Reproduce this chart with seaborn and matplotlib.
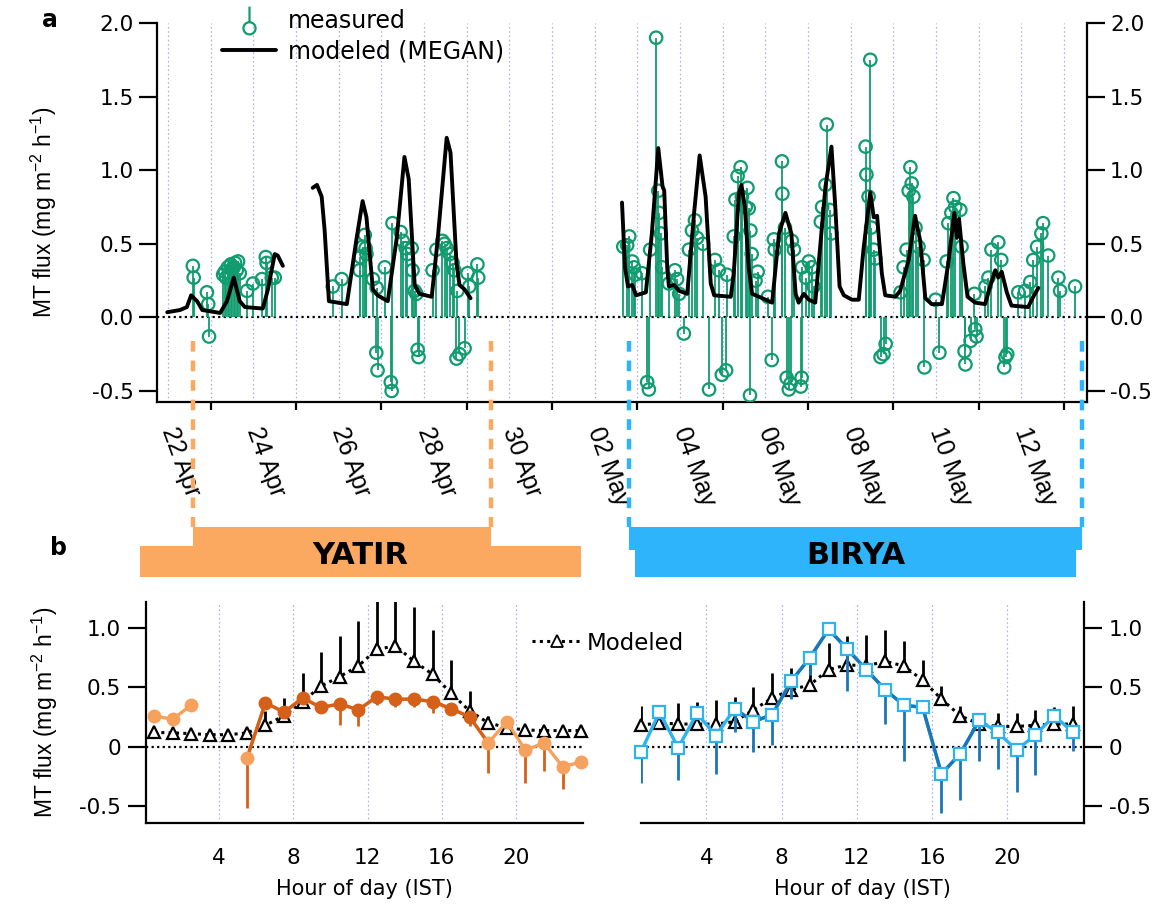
import numpy as np
import pandas as pd
import matplotlib
matplotlib.use("Agg")
import matplotlib.pyplot as plt
import matplotlib.dates as mdates
from matplotlib.lines import Line2D
from matplotlib.patches import Rectangle
from matplotlib.path import Path
from matplotlib.ticker import FixedLocator, FuncFormatter
import seaborn as sns

sns.set_theme(style="white")
plt.rcParams["font.family"] = ["DejaVu Sans"]
plt.rcParams["mathtext.fontset"] = "custom"
plt.rcParams["mathtext.rm"] = "Liberation Sans"
plt.rcParams["mathtext.it"] = "Liberation Sans:italic"
plt.rcParams["mathtext.bf"] = "Liberation Sans:bold"
plt.rcParams["text.color"] = "black"
plt.rcParams["axes.labelcolor"] = "black"
plt.rcParams["xtick.color"] = "black"
plt.rcParams["ytick.color"] = "black"
NARROW = ["Liberation Sans", "DejaVu Sans"]

# ---------------------------------------------------------------- data
START = pd.Timestamp("2017-04-22")          # day offsets below are relative to 22 Apr 00:00

# modeled (MEGAN) flux, three continuous segments: day offset / value
MODEL_A_DAY = [-0.02, 0.28, 0.44, 0.54, 0.68, 0.80, 1.22, 1.38, 1.54, 1.68, 1.80, 2.22, 2.34, 2.50, 2.57, 2.69]
MODEL_A_VAL = [0.035, 0.05, 0.07, 0.15, 0.11, 0.05, 0.03, 0.11, 0.27, 0.11, 0.07, 0.06, 0.19, 0.43, 0.42, 0.35]
MODEL_B_DAY = [3.39, 3.49, 3.60, 3.67, 3.77, 3.98, 4.19, 4.42, 4.56, 4.65, 4.80, 4.91, 5.15, 5.36, 5.54, 5.64,
               5.78, 5.89, 6.18, 6.32, 6.53, 6.62, 6.76, 6.83, 6.95, 7.09]
MODEL_B_VAL = [0.88, 0.90, 0.82, 0.59, 0.11, 0.10, 0.09, 0.54, 0.79, 0.68, 0.19, 0.15, 0.11, 0.54, 1.09, 0.94,
               0.22, 0.16, 0.14, 0.53, 1.22, 1.12, 0.37, 0.22, 0.19, 0.13]
MODEL_C_DAY = [10.64, 10.71, 10.78, 10.88, 10.97, 11.20, 11.34, 11.49, 11.59, 11.63, 11.70, 11.74, 11.86, 11.98,
               12.17, 12.33, 12.46, 12.60, 12.72, 12.80, 13.19, 13.26, 13.38, 13.44, 13.52, 13.61, 13.69, 13.93,
               14.16, 14.32, 14.47, 14.61, 14.71, 14.78, 14.90, 15.02, 15.17, 15.41, 15.55, 15.64, 15.74, 15.84,
               16.03, 16.19, 16.30, 16.46, 16.54, 16.62, 16.73, 16.81, 17.05, 17.16, 17.36, 17.51, 17.63, 17.75,
               17.90, 18.14, 18.29, 18.43, 18.49, 18.54, 18.64, 18.74, 18.92, 19.15, 19.29, 19.39, 19.46, 19.54,
               19.66, 19.77, 20.16, 20.28, 20.40]
MODEL_C_VAL = [0.78, 0.34, 0.21, 0.22, 0.15, 0.17, 0.57, 1.15, 0.89, 0.86, 0.34, 0.21, 0.22, 0.18,
               0.16, 0.71, 1.10, 0.82, 0.23, 0.15, 0.14, 0.30, 0.84, 0.90, 0.75, 0.34, 0.16, 0.13,
               0.10, 0.57, 0.71, 0.57, 0.16, 0.10, 0.16, 0.12, 0.10, 0.89, 1.16, 0.75, 0.21, 0.15,
               0.12, 0.12, 0.46, 0.85, 0.68, 0.69, 0.30, 0.15, 0.14, 0.18, 0.39, 0.69, 0.52, 0.13,
               0.09, 0.09, 0.37, 0.71, 0.54, 0.67, 0.37, 0.14, 0.10, 0.09, 0.23, 0.32, 0.27, 0.31,
               0.17, 0.08, 0.07, 0.14, 0.20]

# measured flux (stems): day offset / value
MEAS_DAY = [0.58, 0.60, 0.91, 0.94, 0.96, 1.29, 1.33, 1.36, 1.40, 1.43, 1.47, 1.50, 1.54, 1.57, 1.61, 1.64, 1.68,
            1.85, 1.99, 2.20, 2.29, 2.31, 2.43, 2.50,
            3.86, 4.07, 4.49, 4.51, 4.56, 4.61, 4.63, 4.65, 4.80, 4.89, 4.88, 4.91, 5.08, 5.22, 5.24, 5.26,
            5.45, 5.50, 5.57, 5.61, 5.71, 5.73, 5.78, 5.82, 5.85, 5.87, 6.20, 6.29, 6.43, 6.48, 6.53, 6.60,
            6.67, 6.71, 6.78, 6.76, 6.83, 6.95, 7.02, 7.06, 7.25, 7.27,
            10.67, 10.76, 10.81, 10.88, 10.92, 10.95, 11.11, 11.23, 11.27, 11.30, 11.44, 11.49, 11.51, 11.55,
            11.58, 11.74, 11.88, 11.93, 11.98, 12.09, 12.21, 12.28, 12.35, 12.40, 12.54, 12.68, 12.82, 12.91,
            12.98, 13.08, 13.10, 13.26, 13.30, 13.35, 13.42, 13.45, 13.54, 13.58, 13.61, 13.65, 13.68, 13.77,
            13.82, 13.64, 14.06, 14.15, 14.20, 14.22, 14.39, 14.40, 14.46, 14.50, 14.55, 14.59, 14.62, 14.67,
            14.83, 14.85, 14.86, 14.95, 15.02, 15.09, 15.13, 15.30, 15.33, 15.41, 15.44, 15.51, 15.55,
            16.35, 16.37, 16.42, 16.46, 16.48, 16.54, 16.58, 16.70, 16.77, 16.82, 17.17, 17.24, 17.31, 17.36,
            17.40, 17.43, 17.47, 17.52, 17.59, 17.71, 17.73, 17.99, 18.08, 18.25, 18.29, 18.36, 18.41, 18.45,
            18.57, 18.60, 18.67, 18.69, 18.81, 18.90, 18.92, 18.95, 19.16, 19.23, 19.30, 19.46, 19.53, 19.60,
            19.63, 19.67, 19.93, 20.09, 20.21, 20.28, 20.37, 20.47, 20.51, 20.63, 20.87, 20.91, 21.26]
MEAS_VAL = [0.35, 0.27, 0.17, 0.09, -0.13, 0.29, 0.31, 0.27, 0.34, 0.30, 0.36, 0.33, 0.34, 0.37, 0.32, 0.38, 0.30,
            0.18, 0.23, 0.26, 0.41, 0.37, 0.27, 0.27,
            0.21, 0.26, 0.32, 0.41, 0.48, 0.56, 0.47, 0.43, 0.26, 0.20, -0.24, -0.36, 0.34, -0.44, -0.50, 0.64,
            0.58, 0.52, 0.47, 0.43, 0.47, 0.32, 0.18, 0.16, -0.22, -0.27, 0.32, 0.46, 0.52, 0.50, 0.47, 0.43,
            0.37, 0.32, 0.18, -0.28, -0.25, -0.21, 0.30, 0.21, 0.36, 0.27,
            0.48, 0.49, 0.55, 0.38, 0.34, 0.29, 0.30, -0.44, -0.49, 0.46, 1.90, 0.86, 0.71, 0.57,
            0.34, 0.23, 0.32, 0.26, 0.16, -0.11, 0.46, 0.59, 0.66, 0.54, 0.50, -0.49, 0.39, 0.32,
            -0.39, -0.36, 0.29, 0.55, 0.80, 0.96, 1.02, 0.82, 0.75, 0.88, 0.74, 0.59, 0.43, 0.25,
            0.31, -0.53, 0.14, -0.29, 0.53, 0.46, 1.06, 0.84, 0.61, -0.41, -0.49, -0.45, 0.52, 0.46,
            -0.47, -0.41, 0.34, 0.27, 0.38, 0.34, 0.21, 0.65, 0.75, 0.90, 1.31, 0.73, 0.57,
            1.16, 0.97, 0.82, 1.75, 0.61, 0.46, 0.40, -0.27, -0.25, -0.18, 0.17, 0.34, 0.46, 0.86,
            1.02, 0.91, 0.82, 0.61, 0.48, 0.39, -0.34, 0.12, -0.24, 0.38, 0.64, 0.71, 0.81, 0.75,
            0.73, 0.48, -0.23, -0.32, -0.16, 0.16, -0.08, -0.13, 0.21, 0.27, 0.46, 0.51, 0.39, -0.34,
            -0.27, -0.25, 0.17, 0.18, 0.24, 0.39, 0.48, 0.57, 0.64, 0.42, 0.27, 0.18, 0.21]

TICK_DATES = ["2017-04-22", "2017-04-24", "2017-04-26", "2017-04-28", "2017-04-30",
              "2017-05-02", "2017-05-04", "2017-05-06", "2017-05-08", "2017-05-10", "2017-05-12"]

# campaign periods (day offsets)
SITES = ["YATIR", "BIRYA"]
SITE_START = [0.585, 10.81]
SITE_END = [7.58, 21.43]

# diurnal composites (hour of day)
HOURS = [0.5, 1.5, 2.5, 3.5, 4.5, 5.5, 6.5, 7.5, 8.5, 9.5, 10.5, 11.5,
         12.5, 13.5, 14.5, 15.5, 16.5, 17.5, 18.5, 19.5, 20.5, 21.5, 22.5, 23.5]
YATIR_MEAS = [0.26, 0.23, 0.35, np.nan, np.nan, -0.10, 0.37, 0.29, 0.41, 0.33, 0.36, 0.31,
              0.42, 0.40, 0.40, 0.38, 0.32, 0.25, 0.03, 0.21, -0.03, 0.03, -0.17, -0.13]
YATIR_MEAS_ERR = [0.02, 0.02, 0.02, np.nan, np.nan, 0.42, 0.03, 0.03, 0.03, 0.03, 0.18, 0.14,
                  0.07, 0.07, 0.07, 0.10, 0.04, 0.08, 0.25, 0.05, 0.28, 0.24, 0.19, 0.04]
YATIR_MODEL = [0.12, 0.115, 0.11, 0.10, 0.10, 0.115, 0.18, 0.26, 0.38, 0.51, 0.59, 0.68,
               0.82, 0.85, 0.72, 0.61, 0.45, 0.30, 0.20, 0.16, 0.14, 0.135, 0.135, 0.135]
YATIR_MODEL_ERR = [0.02, 0.02, 0.02, 0.02, 0.02, 0.03, 0.12, 0.15, 0.24, 0.29, 0.34, 0.38,
                   0.55, 0.55, 0.46, 0.37, 0.28, 0.17, 0.06, 0.03, 0.02, 0.02, 0.02, 0.02]
BIRYA_MEAS = [-0.05, 0.29, -0.01, 0.28, 0.09, 0.32, 0.21, 0.27, 0.55, 0.75, 0.99, 0.82,
              0.65, 0.48, 0.35, 0.33, -0.23, -0.06, 0.22, 0.12, -0.03, 0.10, 0.26, 0.12]
BIRYA_MEAS_ERR = [0.26, 0.04, 0.27, 0.04, 0.32, 0.20, 0.26, 0.26, 0.15, 0.15, 0.04, 0.35,
                  0.05, 0.29, 0.47, 0.05, 0.33, 0.39, 0.34, 0.31, 0.35, 0.34, 0.04, 0.16]
BIRYA_MODEL = [0.18, 0.20, 0.19, 0.19, 0.19, 0.21, 0.31, 0.41, 0.48, 0.52, 0.65, 0.69,
               0.68, 0.72, 0.68, 0.56, 0.40, 0.26, 0.19, 0.17, 0.17, 0.18, 0.19, 0.19]
BIRYA_MODEL_ERR = [0.16, 0.15, 0.18, 0.19, 0.20, 0.21, 0.19, 0.21, 0.18, 0.23, 0.22, 0.24,
                   0.26, 0.26, 0.21, 0.17, 0.11, 0.08, 0.08, 0.11, 0.11, 0.13, 0.14, 0.15]

# ---------------------------------------------------------------- style
GREEN = "#109C6F"
GRID = "#A8A8F0"
OR_L, OR_D = "#F6A25E", "#D4601A"
BL_L, BL_D = "#2DB4F0", "#1B76B8"
SITE_COL = {"YATIR": "#FBA961", "BIRYA": "#2DB4FB"}
TICK_FS, LAB_FS = 15.5, 15
YLAB_FS = 16.5
W, H = 1170, 919


def fx(px):
    return px / W


def fy(py):
    return 1 - py / H


def days(offsets):
    return START + pd.to_timedelta(np.asarray(offsets, dtype=float), unit="D")


fig = plt.figure(figsize=(11.7, 9.19), dpi=100)

# ================================================================ panel a
ax = fig.add_axes([fx(157), fy(402), fx(930), 379 / H])
ax.set_xlim(days([-0.26])[0], days([21.54])[0])
ax.set_ylim(-0.575, 2.0)

for d in pd.date_range(START, START + pd.Timedelta(days=21), freq="D"):
    ax.axvline(d, color=GRID, ls=(0, (1.2, 2.2)), lw=0.9, zorder=0)
ax.axhline(0, color="black", ls=(0, (1, 1.5)), lw=1.6, zorder=1)

mt = days(MEAS_DAY)
ax.vlines(mt, 0, MEAS_VAL, color=GREEN, lw=1.3, zorder=2)
sns.scatterplot(x=mt, y=MEAS_VAL, ax=ax, marker="o", s=80, legend=False, zorder=3)
coll = ax.collections[-1]
coll.set_facecolor("none")
coll.set_edgecolor(GREEN)
coll.set_linewidth(1.6)

for dd, vv in [(MODEL_A_DAY, MODEL_A_VAL), (MODEL_B_DAY, MODEL_B_VAL), (MODEL_C_DAY, MODEL_C_VAL)]:
    sns.lineplot(x=days(dd), y=vv, ax=ax, color="black", lw=2.8, estimator=None, sort=False,
                 legend=False, zorder=4)

ax.xaxis.set_major_locator(FixedLocator(mdates.date2num(pd.to_datetime(TICK_DATES))))
ax.xaxis.set_minor_locator(mdates.DayLocator())
ax.xaxis.set_major_formatter(mdates.DateFormatter("%d %b"))
ax.set_yticks([-0.5, 0.0, 0.5, 1.0, 1.5, 2.0])
ax.yaxis.set_major_formatter(FuncFormatter(lambda v, p: f"{v:.1f}"))
ax.tick_params(axis="both", which="major", direction="out", length=13, width=1.6,
               labelsize=TICK_FS, colors="black")
ax.tick_params(axis="x", which="minor", direction="out", length=6, width=1.6, bottom=True)
ax.tick_params(axis="y", left=True, right=True, labelleft=True, labelright=True)
ax.tick_params(axis="x", which="major", pad=6)
plt.setp(ax.get_xticklabels(), rotation=-70, ha="left", va="center", rotation_mode="anchor",
         family=NARROW, fontsize=18)
for s in ["left", "right", "bottom"]:
    ax.spines[s].set_linewidth(1.6)
    ax.spines[s].set_color("black")
ax.spines["top"].set_visible(False)
ax.set_xlabel("")
ax.set_ylabel("MT flux (mg m$^{-2}$ h$^{-1}$)", fontsize=YLAB_FS, family=NARROW, labelpad=24)

# legend with a stem-like marker
circ = Path.circle(center=(0, -0.45), radius=0.35)
stem = Path([(0, -0.1), (0, 0.8)], [Path.MOVETO, Path.LINETO])
stem_marker = Path.make_compound_path(stem, circ)
h_meas = Line2D([], [], ls="none", marker=stem_marker, ms=20, mec=GREEN, mfc="none", mew=1.6)
h_mod = Line2D([], [], color="black", lw=2.8)
ax.legend([h_meas, h_mod], ["measured", "modeled (MEGAN)"], loc="upper left",
          bbox_to_anchor=(fx(222), fy(9)), bbox_transform=fig.transFigure,
          frameon=False, fontsize=17, handlelength=2.3, handletextpad=0.5,
          labelspacing=0.28, borderaxespad=0, borderpad=0)

# ================================================================ panel b
axL = fig.add_axes([fx(146), fy(823), fx(437), 221 / H])
axR = fig.add_axes([fx(641), fy(823), fx(443), 221 / H])


def diurnal(a, meas, meas_err, model, model_err, c_light, c_dark, mk, filled):
    h = np.asarray(HOURS)
    meas = np.asarray(meas, dtype=float)
    for g in [4, 8, 12, 16, 20]:
        a.axvline(g, color=GRID, ls=(0, (1.2, 2.2)), lw=0.9, zorder=0)
    a.axhline(0, color="black", ls=(0, (1, 1.5)), lw=1.6, zorder=1)
    # modeled
    a.errorbar(h, model, yerr=[np.zeros(len(h)), model_err], fmt="none", ecolor="black",
               elinewidth=2.0, capsize=0, zorder=2)
    sns.lineplot(x=h, y=model, ax=a, color="black", lw=2.2, linestyle=(0, (1, 1.4)),
                 marker="^", markersize=9, markerfacecolor="white", markeredgecolor="black",
                 markeredgewidth=1.6, estimator=None, sort=False, legend=False, zorder=3,
                 clip_on=False)
    # measured
    ok = ~np.isnan(meas)
    a.errorbar(h[ok], meas[ok], yerr=[np.asarray(meas_err)[ok], np.zeros(ok.sum())], fmt="none",
               ecolor=c_dark, elinewidth=2.0, capsize=0, zorder=4)
    seg = np.cumsum(~ok)
    for sid in np.unique(seg[ok]):
        m = ok & (seg == sid)
        sns.lineplot(x=h[m], y=meas[m], ax=a, color=c_light, lw=2.4, estimator=None, sort=False,
                     legend=False, zorder=5)
    day = ok & (h > 5) & (h < 19)
    sns.lineplot(x=h[day], y=meas[day], ax=a, color=c_dark, lw=2.4, estimator=None, sort=False,
                 legend=False, zorder=6)
    core = ok & (h > 6) & (h < 18)
    night = ok & ~core
    for m, col in [(night, c_light), (core, c_dark)]:
        if filled:
            a.plot(h[m], meas[m], ls="none", marker=mk, ms=9, mfc=col, mec=col, zorder=7,
                   clip_on=False)
        else:
            a.plot(h[m], meas[m], ls="none", marker=mk, ms=8, mfc="white", mec=c_light,
                   mew=1.6, zorder=7, clip_on=False)
    a.set_ylim(-0.645, 1.22)
    a.set_yticks([-0.5, 0, 0.5, 1.0])
    a.set_yticklabels(["-0.5", "0", "0.5", "1.0"])
    a.set_xticks([4, 8, 12, 16, 20])
    a.tick_params(axis="both", direction="out", length=13, width=1.6, labelsize=TICK_FS,
                  colors="black", pad=5)
    a.set_xlabel("Hour of day (IST)", fontsize=LAB_FS, labelpad=8, color="black")
    a.spines["top"].set_visible(False)
    for s in a.spines.values():
        s.set_linewidth(1.6)
        s.set_color("black")


diurnal(axL, YATIR_MEAS, YATIR_MEAS_ERR, YATIR_MODEL, YATIR_MODEL_ERR, OR_L, OR_D, "o", True)
axL.set_xlim(0.07, 23.6)
axL.spines["right"].set_visible(False)
axL.tick_params(axis="y", left=True, right=False)
axL.set_ylabel("MT flux (mg m$^{-2}$ h$^{-1}$)", fontsize=YLAB_FS, family=NARROW, labelpad=14)

diurnal(axR, BIRYA_MEAS, BIRYA_MEAS_ERR, BIRYA_MODEL, BIRYA_MODEL_ERR, BL_L, BL_D, "s", False)
axR.set_xlim(0.52, 24.08)
axR.spines["left"].set_visible(False)
axR.yaxis.tick_right()
axR.tick_params(axis="y", left=False, right=True, labelleft=False, labelright=True)
axR.set_ylabel("")

h_model = Line2D([], [], color="black", lw=2.2, ls=(0, (1, 1.4)), marker="^", ms=8,
                 mfc="white", mec="black", mew=1.3)
fig.legend([h_model], ["Modeled"], loc="center left", bbox_to_anchor=(fx(532), fy(643)),
           frameon=False, fontsize=16.5, handlelength=2.2, handletextpad=0.2, borderpad=0,
           borderaxespad=0)

# ================================================================ site bars
ov = fig.add_axes([0, 0, 1, 1], facecolor="none")
ov.set_xlim(0, 1)
ov.set_ylim(0, 1)
ov.set_axis_off()
inv = fig.transFigure.inverted()


def date_fx(offset):
    xd = mdates.date2num(days([offset])[0])
    return inv.transform(ax.transData.transform((xd, 0)))[0]


lower_span = {"YATIR": (fx(140), fx(581)), "BIRYA": (fx(635), fx(1076))}
upper_bottom = {"YATIR": fy(547), "BIRYA": fy(550)}
for name, s0, s1 in zip(SITES, SITE_START, SITE_END):
    col = SITE_COL[name]
    x0, x1 = date_fx(s0), date_fx(s1)
    ov.add_patch(Rectangle((x0, upper_bottom[name]), x1 - x0, fy(527) - upper_bottom[name],
                           facecolor=col, edgecolor="none"))
    l0, l1 = lower_span[name]
    ov.add_patch(Rectangle((l0, fy(577)), l1 - l0, upper_bottom[name] - fy(577) + 0.001,
                           facecolor=col, edgecolor="none"))
    for xx in (x0, x1):
        ov.plot([xx, xx], [fy(341), fy(527)], color=col, lw=3.2, ls=(0, (2.4, 2.0)),
                solid_capstyle="butt")
    ov.text((l0 + l1) / 2, fy(556), name, ha="center", va="center", fontsize=22,
            fontweight="bold", color="black")

fig.text(fx(50), fy(20), "a", fontsize=17, fontweight="bold", ha="center", va="center")
fig.text(fx(58), fy(548), "b", fontsize=17, fontweight="bold", ha="center", va="center")

fig.savefig("out.png", dpi=100)
